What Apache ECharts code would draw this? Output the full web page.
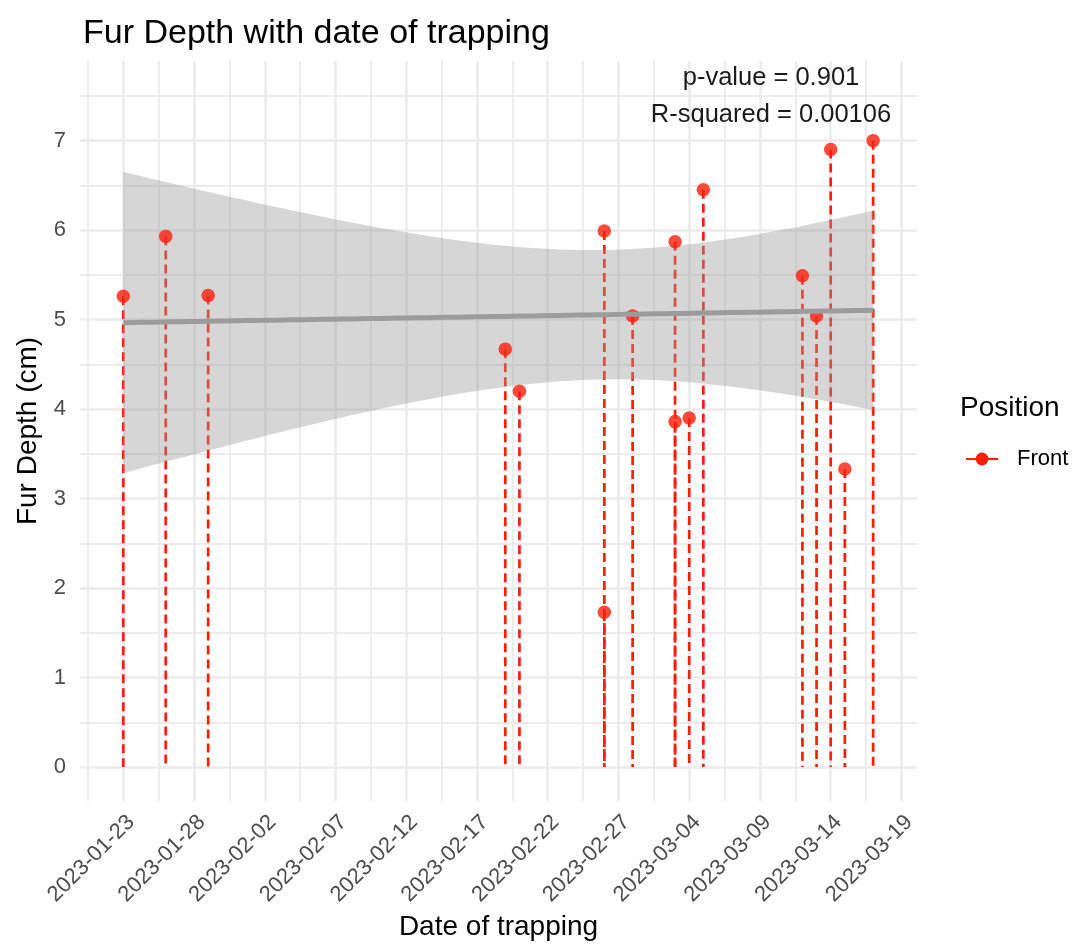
<!DOCTYPE html>
<html>
<head>
<meta charset="utf-8">
<title>Fur Depth with date of trapping</title>
<script src="https://cdn.jsdelivr.net/npm/echarts@6/dist/echarts.min.js"></script>
<style>
  html, body { margin: 0; padding: 0; background: #ffffff; }
  #chart { width: 1077px; height: 947px; }
</style>
</head>
<body>
<div id="chart"></div>
<script>
// Trapping records: date and front fur depth (cm)
const trapDates = [
  '2023-01-23', '2023-01-26', '2023-01-29', '2023-02-19', '2023-02-20',
  '2023-02-26', '2023-02-26', '2023-02-28', '2023-03-03', '2023-03-03',
  '2023-03-04', '2023-03-05', '2023-03-12', '2023-03-13', '2023-03-14',
  '2023-03-15', '2023-03-17'
];
const furDepth = [
  5.26, 5.93, 5.27, 4.67, 4.20,
  5.99, 1.73, 5.04, 5.87, 3.86,
  3.90, 6.45, 5.49, 5.04, 6.90,
  3.33, 7.00
];
const seriesName = 'Front';

// Axis breaks
const xTickDates = [
  '2023-01-23', '2023-01-28', '2023-02-02', '2023-02-07', '2023-02-12', '2023-02-17',
  '2023-02-22', '2023-02-27', '2023-03-04', '2023-03-09', '2023-03-14', '2023-03-19'
];
const yTicks = [0, 1, 2, 3, 4, 5, 6, 7];

// Fit summary printed in the corner
const statLines = ['p-value = 0.901', 'R-squared = 0.00106'];

// ---------------------------------------------------------------------------
const DAY = 86400000;
const ORIGIN = Date.UTC(2023, 0, 23);
const toDay = s => (Date.parse(s + 'T00:00:00Z') - ORIGIN) / DAY;
const toLabel = d => new Date(ORIGIN + Math.round(d * DAY)).toISOString().slice(0, 10);

const xs = trapDates.map(toDay);
const points = xs.map((x, i) => [x, furDepth[i]]);

// Ordinary least squares fit with a 95% confidence band
const n = xs.length;
const mx = xs.reduce((a, b) => a + b, 0) / n;
const my = furDepth.reduce((a, b) => a + b, 0) / n;
let sxx = 0, sxy = 0, syy = 0;
for (let i = 0; i < n; i++) {
  sxx += (xs[i] - mx) ** 2;
  sxy += (xs[i] - mx) * (furDepth[i] - my);
  syy += (furDepth[i] - my) ** 2;
}
const slope = sxy / sxx;
const intercept = my - slope * mx;
const sigma = Math.sqrt((syy - slope * sxy) / (n - 2));
const T_975_DF15 = 2.131; // two-sided 95% Student t quantile for n - 2 = 15
const xLo = Math.min(...xs), xHi = Math.max(...xs);
const fitLine = [], bandUpper = [], bandLower = [];
for (let k = 0; k < 80; k++) {
  const x = xLo + (xHi - xLo) * k / 79;
  const yhat = intercept + slope * x;
  const se = sigma * Math.sqrt(1 / n + (x - mx) ** 2 / sxx);
  fitLine.push([x, yhat]);
  bandUpper.push([x, yhat + T_975_DF15 * se]);
  bandLower.push([x, yhat - T_975_DF15 * se]);
}

const xMajor = xTickDates.map(toDay);
const xMinor = xMajor.map(v => v - 2.5);
const yMinor = yTicks.map(v => v + 0.5);

const FONT = '"Liberation Sans", Arial, Helvetica, sans-serif';
const RED = '#FF1E0A';
const GRID_COLOR = '#EBEBEB';

const chart = echarts.init(document.getElementById('chart'), null, { renderer: 'canvas' });

const hiddenAxisParts = {
  axisLine: { show: false },
  axisLabel: { show: false },
};

chart.setOption({
  animation: false,
  backgroundColor: '#ffffff',
  textStyle: { fontFamily: FONT },
  title: [
    {
      text: 'Fur Depth with date of trapping',
      left: 78, top: 12,
      textStyle: { fontFamily: FONT, fontSize: 34, fontWeight: 'normal', color: '#000000' }
    },
    {
      text: 'Position',
      left: 955, top: 389,
      textStyle: { fontFamily: FONT, fontSize: 28, fontWeight: 'normal', color: '#000000' }
    }
  ],
  legend: {
    left: 960, top: 443,
    orient: 'vertical',
    itemWidth: 32, itemHeight: 16,
    data: [seriesName],
    textStyle: { fontFamily: FONT, fontSize: 22, color: '#000000', padding: [0, 0, 0, 14] }
  },
  grid: { left: 80, right: 160, top: 61, bottom: 146, containLabel: false },
  xAxis: [
    {
      type: 'value', min: -3.06, max: 56.10,
      name: 'Date of trapping', nameLocation: 'middle', nameGap: 112,
      nameTextStyle: { fontFamily: FONT, fontSize: 28, color: '#000000', verticalAlign: 'top' },
      axisLine: { show: false },
      axisTick: { show: false, customValues: xMajor },
      axisLabel: {
        customValues: xMajor, rotate: 45, margin: 10,
        align: 'right', verticalAlign: 'top',
        fontFamily: FONT, fontSize: 22, color: '#4D4D4D',
        formatter: v => toLabel(v)
      },
      splitLine: { show: true, lineStyle: { color: GRID_COLOR, width: 2.6 } }
    },
    {
      type: 'value', min: -3.06, max: 56.10, position: 'bottom',
      ...hiddenAxisParts,
      axisTick: { show: false, customValues: xMinor },
      splitLine: { show: true, lineStyle: { color: GRID_COLOR, width: 1.8 } }
    }
  ],
  yAxis: [
    {
      type: 'value', min: -0.38, max: 7.89,
      name: 'Fur Depth (cm)', nameLocation: 'middle', nameGap: 38, nameRotate: 90,
      nameTextStyle: { fontFamily: FONT, fontSize: 28, color: '#000000' },
      axisLine: { show: false },
      axisTick: { show: false, customValues: yTicks },
      axisLabel: {
        customValues: yTicks, margin: 14,
        fontFamily: FONT, fontSize: 22, color: '#4D4D4D'
      },
      splitLine: { show: true, lineStyle: { color: GRID_COLOR, width: 2.6 } }
    },
    {
      type: 'value', min: -0.38, max: 7.89, position: 'left',
      ...hiddenAxisParts,
      axisTick: { show: false, customValues: yMinor },
      splitLine: { show: true, lineStyle: { color: GRID_COLOR, width: 1.8 } }
    }
  ],
  graphic: statLines.map((t, i) => ({
    type: 'text',
    x: 771, y: 78 + i * 37,
    style: {
      text: t, fontFamily: FONT, fontSize: 25.5, fill: '#1A1A1A',
      textAlign: 'center', textVerticalAlign: 'middle'
    },
    z: 10
  })),
  series: [
    {
      // dashed stems from each reading down to zero
      type: 'custom',
      name: 'stems',
      xAxisIndex: 0, yAxisIndex: 0,
      data: points,
      renderItem: (params, api) => {
        const top = api.coord([api.value(0), api.value(1)]);
        const base = api.coord([api.value(0), 0]);
        return {
          type: 'line',
          shape: { x1: top[0], y1: top[1], x2: base[0], y2: base[1] },
          style: { stroke: RED, lineWidth: 2.7, lineDash: [9, 5] }
        };
      },
      silent: true
    },
    {
      type: 'scatter',
      name: 'points',
      xAxisIndex: 0, yAxisIndex: 0,
      data: points,
      symbol: 'circle', symbolSize: 13.5,
      itemStyle: { color: RED },
      silent: true
    },
    {
      // confidence band of the linear fit
      type: 'custom',
      name: 'band',
      xAxisIndex: 0, yAxisIndex: 0,
      data: [[xLo, 0]],
      renderItem: (params, api) => {
        const pts = bandUpper.map(p => api.coord(p))
          .concat(bandLower.slice().reverse().map(p => api.coord(p)));
        return {
          type: 'polygon',
          shape: { points: pts },
          style: { fill: '#999999', opacity: 0.4 }
        };
      },
      silent: true
    },
    {
      type: 'line',
      name: 'fit',
      xAxisIndex: 0, yAxisIndex: 0,
      data: fitLine,
      showSymbol: false, symbol: 'none',
      lineStyle: { color: '#9C9C9C', width: 5 },
      silent: true
    },
    {
      // legend key: red line with a point
      type: 'line',
      name: seriesName,
      xAxisIndex: 0, yAxisIndex: 0,
      data: [],
      symbol: 'circle',
      itemStyle: { color: RED },
      lineStyle: { color: RED, width: 2.6, type: 'solid' }
    }
  ]
});
</script>
</body>
</html>
